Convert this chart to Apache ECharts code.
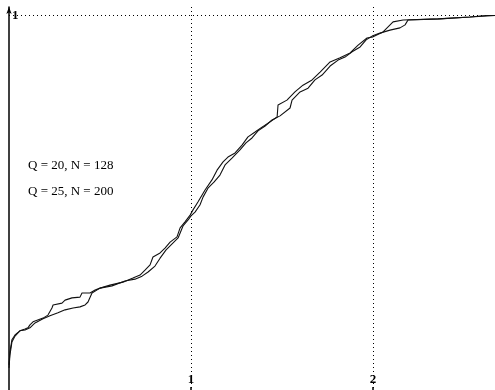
<!DOCTYPE html>
<html>
<head>
<meta charset="utf-8">
<script src="https://cdn.jsdelivr.net/npm/echarts@6/dist/echarts.min.js"></script>
<style>
  html, body { margin: 0; padding: 0; background: #fff; }
  #chart { width: 495px; height: 390px; }
</style>
</head>
<body>
<div id="chart"></div>
<script>
const names = ['Q = 20, N = 128', 'Q = 25, N = 200'];

// curve 1 (Q = 20, N = 128)
const xA = [0, 0.005, 0.016, 0.033, 0.060, 0.088, 0.104, 0.115, 0.132, 0.187, 0.214, 0.236, 0.242, 0.291, 0.308,
  0.346, 0.390, 0.401, 0.445, 0.473, 0.500, 0.555, 0.626, 0.681, 0.720, 0.747, 0.775, 0.791, 0.830, 0.857,
  0.885, 0.923, 0.940, 0.967, 0.995, 1.011, 1.038, 1.077, 1.115, 1.143, 1.176, 1.203, 1.242, 1.280, 1.313,
  1.352, 1.390, 1.434, 1.473, 1.478, 1.527, 1.571, 1.615, 1.665, 1.709, 1.764, 1.819, 1.874, 1.918, 1.967,
  2.000, 2.055, 2.110, 2.165, 2.357, 2.533, 2.626, 2.670];
const yA = [0.067, 0.101, 0.134, 0.147, 0.158, 0.163, 0.166, 0.174, 0.182, 0.192, 0.200, 0.219, 0.227, 0.232, 0.240,
  0.246, 0.248, 0.259, 0.259, 0.267, 0.272, 0.280, 0.288, 0.299, 0.307, 0.320, 0.334, 0.355, 0.366, 0.379,
  0.395, 0.409, 0.433, 0.449, 0.467, 0.481, 0.502, 0.534, 0.561, 0.587, 0.609, 0.622, 0.633, 0.654, 0.676,
  0.689, 0.702, 0.716, 0.729, 0.761, 0.774, 0.796, 0.814, 0.828, 0.849, 0.876, 0.887, 0.900, 0.921, 0.940,
  0.943, 0.956, 0.983, 0.988, 0.991, 0.996, 1.0, 1.0];

// curve 2 (Q = 25, N = 200)
const xB = [0, 0.005, 0.016, 0.033, 0.060, 0.088, 0.115, 0.143, 0.187, 0.225, 0.269, 0.308, 0.352, 0.390, 0.418,
  0.434, 0.456, 0.500, 0.566, 0.637, 0.692, 0.731, 0.764, 0.802, 0.830, 0.863, 0.896, 0.929, 0.956, 0.984,
  1.000, 1.022, 1.049, 1.066, 1.093, 1.126, 1.159, 1.187, 1.225, 1.269, 1.302, 1.335, 1.368, 1.407, 1.445,
  1.489, 1.544, 1.555, 1.599, 1.643, 1.681, 1.720, 1.764, 1.808, 1.846, 1.885, 1.929, 1.962, 1.995, 2.038,
  2.093, 2.148, 2.176, 2.192, 2.368, 2.533, 2.626, 2.670];
const yB = [0.059, 0.093, 0.128, 0.144, 0.158, 0.160, 0.166, 0.179, 0.190, 0.198, 0.206, 0.214, 0.219, 0.222, 0.227,
  0.235, 0.259, 0.272, 0.278, 0.291, 0.296, 0.304, 0.315, 0.331, 0.352, 0.374, 0.390, 0.406, 0.438, 0.454,
  0.465, 0.475, 0.494, 0.515, 0.539, 0.555, 0.574, 0.601, 0.619, 0.641, 0.660, 0.673, 0.692, 0.705, 0.721,
  0.732, 0.753, 0.774, 0.796, 0.806, 0.828, 0.841, 0.865, 0.881, 0.889, 0.903, 0.916, 0.935, 0.945, 0.953,
  0.961, 0.967, 0.975, 0.988, 0.991, 0.996, 0.999, 1.0];

const zip = (xs, ys) => xs.map((x, i) => [x, ys[i]]);
const FONT = '"Liberation Serif", "DejaVu Serif", serif';
const dotted = { color: '#000', type: [1, 3], width: 1 };

const chart = echarts.init(document.getElementById('chart'), null, { renderer: 'canvas' });
chart.setOption({
  animation: false,
  backgroundColor: '#fff',
  grid: { left: 9, right: 0, top: 7, bottom: 0 },
  legend: {
    data: names,
    orient: 'vertical',
    left: 18,
    top: 154,
    icon: 'none',
    itemWidth: 0,
    itemGap: 12,
    selectedMode: false,
    textStyle: { fontFamily: FONT, fontSize: 13, color: '#000' }
  },
  xAxis: {
    type: 'value',
    min: 0,
    max: 2.67,
    interval: 1,
    axisLine: { show: false },
    axisTick: { show: true, inside: true, length: 3, lineStyle: { color: '#000', width: 1.5 } },
    axisLabel: {
      inside: true, margin: 4, showMinLabel: false, showMaxLabel: false,
      fontFamily: FONT, fontSize: 13, color: '#000', fontWeight: 'bold'
    },
    splitLine: { show: true, showMinLine: false, showMaxLine: false, lineStyle: dotted }
  },
  yAxis: {
    type: 'value',
    min: 0,
    max: 1.0227,
    interval: 1,
    axisLine: {
      show: true, onZero: false,
      symbol: ['none', 'arrow'], symbolSize: [4, 7],
      lineStyle: { color: '#000', width: 1.5 }
    },
    axisTick: { show: false },
    axisLabel: {
      inside: true, margin: 3, showMinLabel: false, showMaxLabel: false,
      fontFamily: FONT, fontSize: 13, color: '#000', fontWeight: 'bold'
    },
    splitLine: { show: true, showMinLine: false, showMaxLine: false, lineStyle: dotted }
  },
  series: [
    { name: names[0], type: 'line', data: zip(xA, yA), showSymbol: false, symbol: 'none',
      lineStyle: { color: '#111', width: 1.1 }, itemStyle: { color: '#111' } },
    { name: names[1], type: 'line', data: zip(xB, yB), showSymbol: false, symbol: 'none',
      lineStyle: { color: '#111', width: 1.1 }, itemStyle: { color: '#111' } }
  ]
});
</script>
</body>
</html>
